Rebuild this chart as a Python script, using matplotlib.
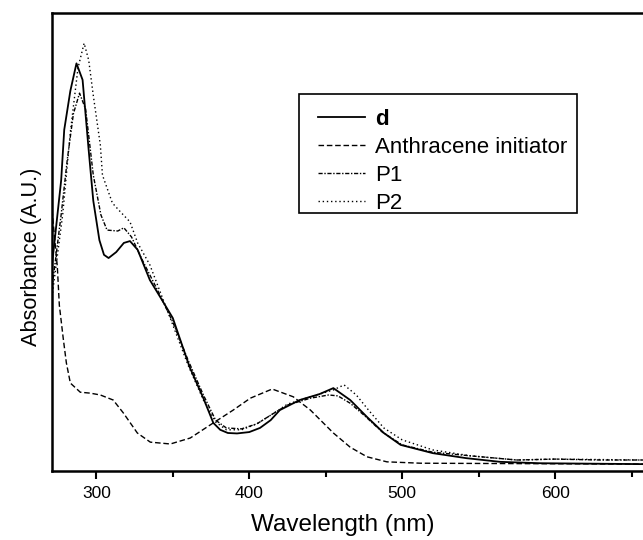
import matplotlib
matplotlib.use("Agg")
import matplotlib.pyplot as plt
from matplotlib.patches import Rectangle

plt.rcParams['font.family'] = ['Liberation Sans', 'DejaVu Sans']

# Wavelength (nm) and absorbance (arbitrary units)
wl_d = [271, 277, 279, 283, 287, 291, 295, 298, 302, 305, 308, 313, 318, 322, 327, 335,
        343, 350, 361, 370, 376.5, 381, 386, 392, 400, 407, 414, 420, 433, 446, 455,
        466, 477, 488, 499, 520, 542, 564, 590, 657.5]
abs_d = [0.45, 0.635, 0.745, 0.83, 0.89, 0.854, 0.70, 0.59, 0.504, 0.472, 0.465, 0.478,
         0.498, 0.502, 0.483, 0.417, 0.373, 0.334, 0.227, 0.159, 0.105, 0.090, 0.083,
         0.082, 0.085, 0.094, 0.111, 0.133, 0.155, 0.168, 0.181, 0.155, 0.118, 0.083,
         0.057, 0.039, 0.028, 0.020, 0.017, 0.015]

wl_an = [271, 274.5, 275.8, 278.4, 280.4, 283, 289.5, 296, 302.6, 311, 317.6, 326.8,
         335.3, 348.4, 361.4, 376.5, 389.5, 400.7, 415, 428.8, 440, 455, 466, 477, 490,
         512, 657.5]
abs_an = [0.57, 0.445, 0.362, 0.288, 0.236, 0.192, 0.172, 0.170, 0.166, 0.155, 0.127,
          0.083, 0.063, 0.059, 0.072, 0.105, 0.133, 0.159, 0.179, 0.162, 0.133, 0.083,
          0.052, 0.031, 0.020, 0.017, 0.015]

wl_p1 = [271, 277, 281, 285, 289, 293, 298, 303, 307, 314, 318, 323, 330, 340, 350, 360,
         370, 378, 385, 395, 405, 415, 425, 440, 452, 458, 466, 475, 487, 500, 520, 545,
         575, 600, 630, 657.5]
abs_p1 = [0.40, 0.56, 0.68, 0.78, 0.825, 0.79, 0.646, 0.559, 0.526, 0.524, 0.531, 0.511,
          0.461, 0.395, 0.325, 0.242, 0.166, 0.111, 0.094, 0.092, 0.103, 0.124, 0.144,
          0.159, 0.166, 0.164, 0.148, 0.122, 0.085, 0.057, 0.041, 0.033, 0.024, 0.026,
          0.024, 0.024]

wl_p2 = [271, 278, 283, 288, 292, 295, 298, 302.6, 304, 310.5, 315.7, 322, 327, 335, 350,
         360, 370, 378, 385, 395, 405, 415, 425, 440, 455, 462, 470, 478, 488, 500, 520,
         545, 575, 600, 657.5]
abs_p2 = [0.38, 0.56, 0.74, 0.88, 0.934, 0.897, 0.82, 0.712, 0.646, 0.585, 0.566, 0.544,
          0.498, 0.45, 0.319, 0.231, 0.155, 0.107, 0.090, 0.090, 0.103, 0.124, 0.146,
          0.162, 0.177, 0.188, 0.166, 0.133, 0.094, 0.068, 0.046, 0.033, 0.024, 0.026,
          0.024]

labels = ['d', 'Anthracene initiator', 'P1', 'P2']
major_ticks = [300, 400, 500, 600]
minor_ticks = [350, 450, 550, 650]

W, H = 643, 540
fig = plt.figure(figsize=(W / 100, H / 100), dpi=100)
L, R, B, T = 52, 643, 471, 13
ax = fig.add_axes([L / W, 1 - B / H, (R - L) / W, (B - T) / H])

ax.plot(wl_d, abs_d, color='black', lw=1.3, ls='-', label=labels[0])
ax.plot(wl_an, abs_an, color='black', lw=1.0, ls=(0, (4, 2)), label=labels[1])
ax.plot(wl_p1, abs_p1, color='black', lw=1.0, ls=(0, (3, 1.2, 1, 1.2)), label=labels[2])
ax.plot(wl_p2, abs_p2, color='black', lw=1.0, ls=(0, (1, 2)), label=labels[3])

ax.set_xlim(271, 657.5)
ax.set_ylim(0, 1.0)
ax.set_xticks(major_ticks)
ax.set_xticks(minor_ticks, minor=True)
ax.set_yticks([])
ax.tick_params(axis='x', which='major', direction='out', length=6, width=1.5,
               labelsize=12.5, pad=5)
ax.tick_params(axis='x', which='minor', direction='out', length=4.5, width=1.5)
for s in ['left', 'bottom', 'top']:
    ax.spines[s].set_linewidth(1.8)
ax.spines['right'].set_visible(False)

ax.set_xlabel('Wavelength (nm)', fontsize=17.5, va='top')
ax.xaxis.set_label_coords((343 - L) / (R - L), (B - 514) / (B - T))
ax.set_ylabel('Absorbance (A.U.)', fontsize=15.7)
ax.yaxis.set_label_coords((42 - L) / (R - L), (B - 257) / (B - T))

leg = ax.legend(loc='upper left', bbox_to_anchor=(318 / W, 1 - 109 / H),
                bbox_transform=fig.transFigure, frameon=False, fontsize=16,
                handlelength=2.1, handletextpad=0.45, labelspacing=0.31,
                borderpad=0, borderaxespad=0)
leg.get_texts()[0].set_fontweight('bold')
fig.patches.append(Rectangle((299 / W, 1 - 213 / H), (577 - 299) / W, (213 - 94) / H,
                             transform=fig.transFigure, fill=False,
                             edgecolor='black', lw=1.2))

fig.savefig('out.png', dpi=100)
